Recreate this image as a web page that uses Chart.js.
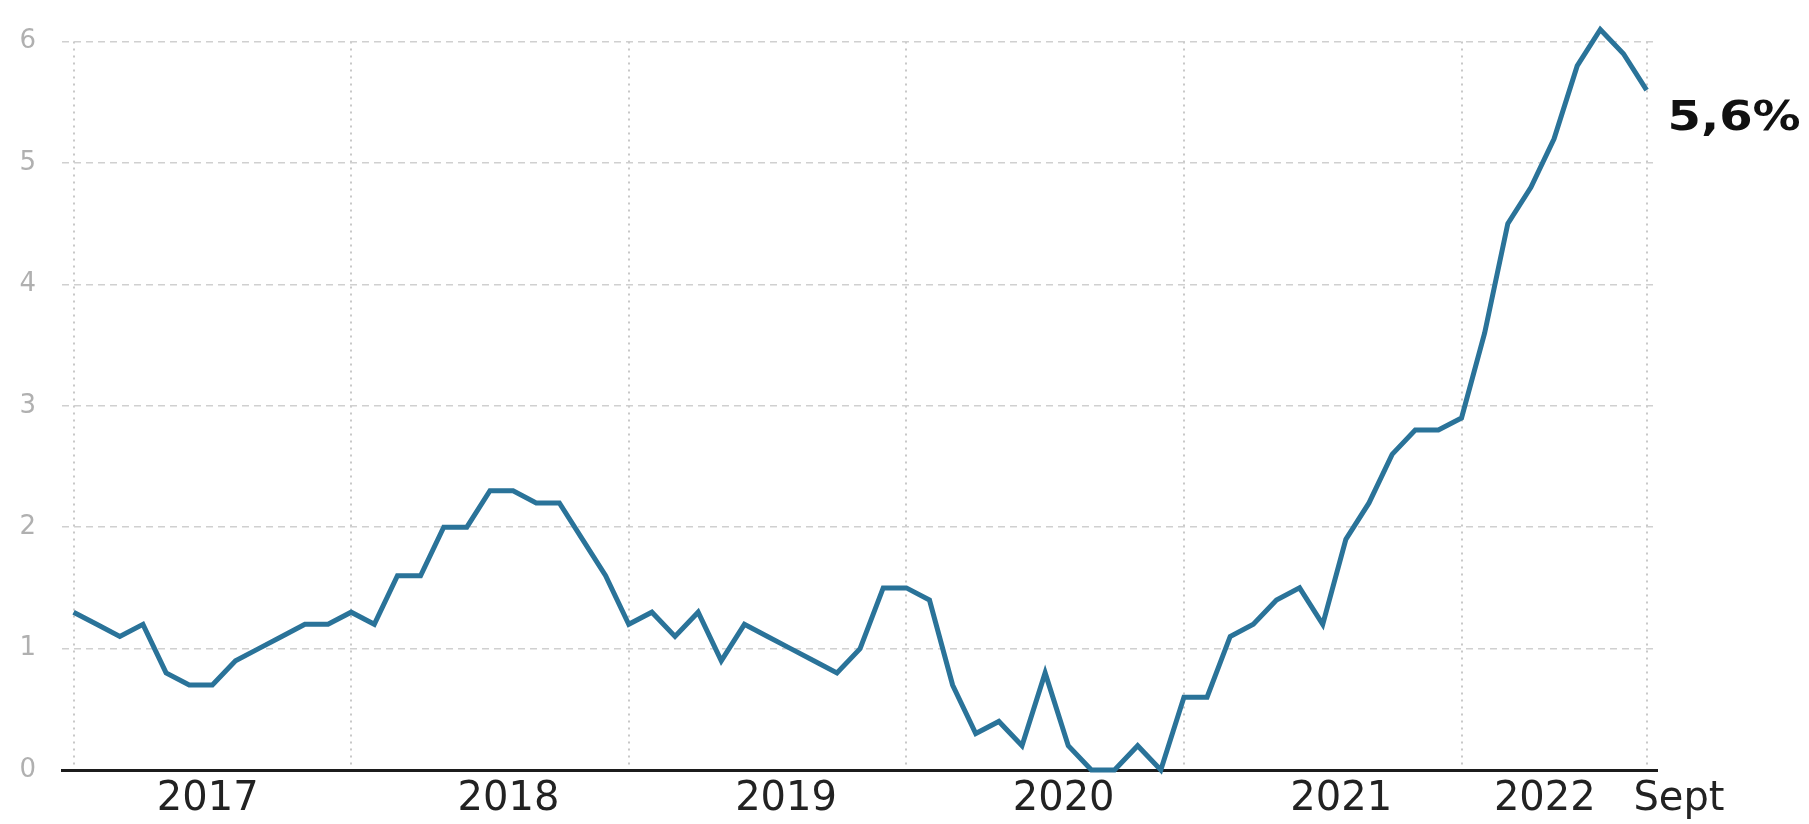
<!DOCTYPE html>
<html>
<head>
<meta charset="utf-8">
<script src="https://cdn.jsdelivr.net/npm/chart.js@4.4.0/dist/chart.umd.min.js"></script>
<style>
	html, body { margin: 0; padding: 0; background: #fff; }
	#chart { display: block; }
</style>
</head>
<body>
<canvas id="chart" width="1809" height="824" style="width:1809px;height:824px"></canvas>
<script>
// monthly values, Jan 2017 -> Sept 2022
var values2017 = [1.3, 1.2, 1.1, 1.2, 0.8, 0.7, 0.7, 0.9, 1.0, 1.1, 1.2, 1.2]
var values2018 = [1.3, 1.2, 1.6, 1.6, 2.0, 2.0, 2.3, 2.3, 2.2, 2.2, 1.9, 1.6]
var values2019 = [1.2, 1.3, 1.1, 1.3, 0.9, 1.2, 1.1, 1.0, 0.9, 0.8, 1.0, 1.5]
var values2020 = [1.5, 1.4, 0.7, 0.3, 0.4, 0.2, 0.8, 0.2, 0.0, 0.0, 0.2, 0.0]
var values2021 = [0.6, 0.6, 1.1, 1.2, 1.4, 1.5, 1.2, 1.9, 2.2, 2.6, 2.8, 2.8]
var values2022 = [2.9, 3.6, 4.5, 4.8, 5.2, 5.8, 6.1, 5.9, 5.6]

var yearLabels = ['2017', '2018', '2019', '2020', '2021', '2022', 'Sept']
// where each label sits, in months from Jan 2017
var yearLabelPos = [5.8, 18.8, 30.8, 42.8, 54.8, 63.6, 69.4]
// vertical grid lines: every January + last month
var gridMonths = [0, 12, 24, 36, 48, 60, 68]
var yTicks = [0, 1, 2, 3, 4, 5, 6]

var allValues = values2017.concat(values2018, values2019, values2020, values2021, values2022)
var points = []
for (var i = 0; i < allValues.length; i++) {
	points.push({x: i, y: allValues[i]})
}
var lastIdx = allValues.length - 1
var lastLabel = allValues[lastIdx].toFixed(1).replace('.', ',') + '%'

var endLabel = {
	id: 'endLabel',
	afterDatasetsDraw(chart) {
		var ctx = chart.ctx
		var pt = chart.getDatasetMeta(0).data[lastIdx]
		ctx.save()
		ctx.font = 'bold 40px "DejaVu Sans"'
		ctx.fillStyle = '#111'
		ctx.textBaseline = 'alphabetic'
		ctx.translate(pt.x + 21, pt.y + 40)
		ctx.scale(1.2, 1)
		ctx.fillText(lastLabel, 0, 0)
		ctx.restore()
	}
}

var ctx = document.getElementById('chart')
var myChart = new Chart(ctx, {
	type: 'line',
	data: {
		datasets: [{
			data: points,
			borderColor: '#2a7399',
			borderWidth: 5,
			pointRadius: 0,
			tension: 0,
			fill: false,
			clip: false
		}]
	},
	options: {
		responsive: false,
		animation: false,
		devicePixelRatio: 1,
		layout: { padding: { top: 33, right: 152, left: 0, bottom: 0 } },
		plugins: { legend: { display: false }, tooltip: { enabled: false } },
		scales: {
			x: {
				type: 'linear',
				position: 'bottom',
				min: -0.5,
				max: 68.45,
				afterBuildTicks: function(s) { s.ticks = gridMonths.map(v => ({value: v})) },
				afterFit: function(s) { s.height = 0 },
				ticks: { display: false },
				grid: { color: '#c8c8c8', lineWidth: 2, drawTicks: false },
				border: { display: true, color: '#1c1c1c', width: 3, dash: [2, 5] }
			},
			x2: {
				type: 'linear',
				position: 'bottom',
				min: -0.5,
				max: 68.45,
				afterBuildTicks: function(s) { s.ticks = yearLabelPos.map(v => ({value: v})) },
				afterFit: function(s) { s.height = 54 },
				ticks: {
					autoSkip: false,
					maxRotation: 0,
					padding: 6,
					color: '#222',
					font: { family: 'DejaVu Sans', size: 40 },
					callback: function(v, i) { return yearLabels[i] }
				},
				grid: { display: false, drawTicks: false },
				border: { display: false }
			},
			y: {
				min: 0,
				max: 6,
				afterBuildTicks: function(s) { s.ticks = yTicks.map(v => ({value: v})) },
				afterFit: function(s) { s.width = 62 },
				ticks: {
					padding: 26,
					color: '#b0b0b0',
					font: { family: 'DejaVu Sans', size: 26 }
				},
				grid: { color: '#d0d0d0', lineWidth: 1.5, drawTicks: false },
				border: { display: false, dash: [7, 5] }
			}
		}
	},
	plugins: [endLabel]
})
</script>
</body>
</html>
